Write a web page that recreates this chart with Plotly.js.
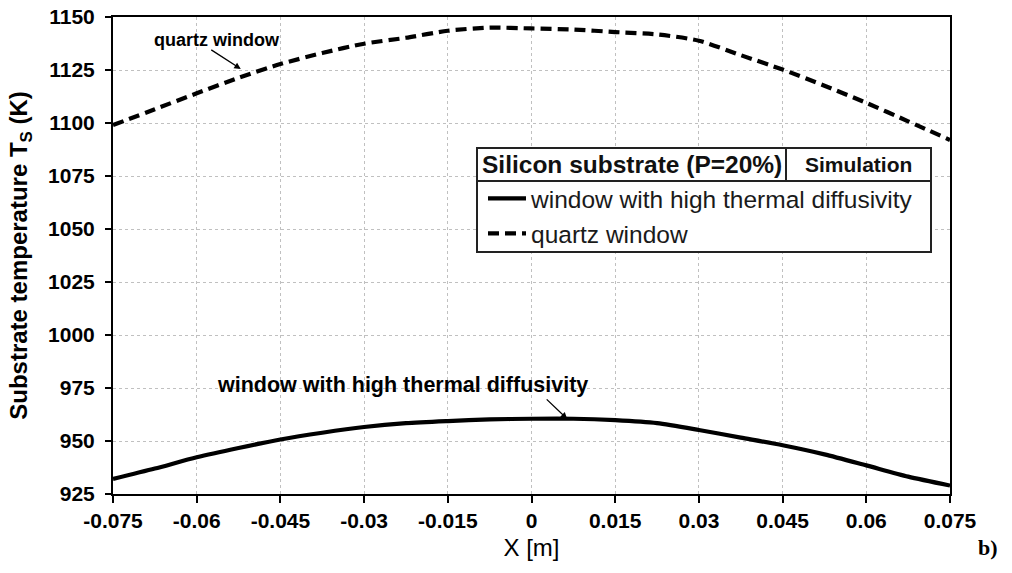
<!DOCTYPE html>
<html>
<head>
<meta charset="utf-8">
<script src="https://cdn.plot.ly/plotly-3.0.1.min.js"></script>
<style>html,body{margin:0;padding:0;background:#fff;}#chart{width:1012px;height:573px;}</style>
</head>
<body>
<div id="chart"></div>
<script>
// Data
const xPos = [-0.075, -0.0675, -0.06, -0.0525, -0.045, -0.0375, -0.03, -0.0225, -0.015, -0.0075, 0,
              0.0075, 0.015, 0.0225, 0.03, 0.0375, 0.045, 0.0525, 0.06, 0.0675, 0.075];
const highDiffusivity = [932.1, 937, 942.3, 946.7, 950.7, 953.9, 956.6, 958.4, 959.4, 960.2, 960.5,
                         960.5, 959.8, 958.4, 955.2, 951.6, 948, 943.7, 938.5, 933.2, 929];
const quartz = [1099, 1106.5, 1114, 1121.3, 1127.8, 1133, 1137.4, 1140.2, 1143.5, 1145, 1144.6,
                1144.1, 1142.9, 1141.8, 1138.8, 1132, 1125.2, 1117.6, 1109.5, 1100.8, 1092];
const xTicks = [-0.075, -0.06, -0.045, -0.03, -0.015, 0, 0.015, 0.03, 0.045, 0.06, 0.075];
const xTickLabels = ['-0.075', '-0.06', '-0.045', '-0.03', '-0.015', '0', '0.015', '0.03', '0.045', '0.06', '0.075'];
const yTicks = [925, 950, 975, 1000, 1025, 1050, 1075, 1100, 1125, 1150];
const seriesNames = ['window with high thermal diffusivity', 'quartz window'];
const headerLeft = 'Silicon substrate (P=20%)';
const headerRight = 'Simulation';

const FONT = 'Arial, "Liberation Sans", sans-serif';
// plot area in pixels
const L = 113, R = 950, T = 17, B = 494;
const px = v => (v - L) / (R - L);
const py = v => (B - v) / (B - T);

const traces = [
  {x: xPos, y: highDiffusivity, name: seriesNames[0], mode: 'lines', legendgroup: 'a',
   line: {color: '#000', width: 4.2, shape: 'spline', smoothing: 0.7}},
  {x: xPos, y: quartz, name: seriesNames[1], mode: 'lines', legendgroup: 'b',
   line: {color: '#000', width: 4.2, dash: '11px,6px', shape: 'spline', smoothing: 0.7}}
];

const boxL = 477, boxR = 931, hTop = 148, hBot = 181, bBot = 252, divX = 786;

const layout = {
  width: 1012, height: 573,
  margin: {l: L, r: 1012 - R, t: T, b: 573 - B},
  paper_bgcolor: '#fff', plot_bgcolor: '#fff',
  font: {family: FONT, color: '#000'},
  showlegend: true,
  legend: {x: px(483), xanchor: 'left', y: py(hBot - 5), yanchor: 'top', itemwidth: 38,
           bgcolor: 'rgba(0,0,0,0)', borderwidth: 0, tracegroupgap: 0,
           font: {size: 24.5, family: FONT, color: '#1a1a1a'}},
  xaxis: {
    range: [-0.075, 0.075], tickvals: xTicks, ticktext: xTickLabels,
    showline: true, linecolor: '#000', linewidth: 2, mirror: true,
    ticks: 'outside', ticklen: 7, tickwidth: 2, tickcolor: '#000',
    showgrid: true, gridcolor: '#c0c0c0', gridwidth: 1, griddash: 'dot',
    zeroline: false,
    tickfont: {size: 21, family: FONT, weight: 'bold', color: '#000'},
    title: {text: 'X [m]', font: {size: 24, family: FONT, color: '#000'}, standoff: 8}
  },
  yaxis: {
    range: [925, 1150], tickvals: yTicks,
    showline: true, linecolor: '#000', linewidth: 2, mirror: true,
    ticks: 'outside', ticklen: 6, tickwidth: 2, tickcolor: '#000', ticklabelstandoff: 6,
    showgrid: true, gridcolor: '#c0c0c0', gridwidth: 1, griddash: 'dot',
    zeroline: false,
    tickfont: {size: 21, family: FONT, weight: 'bold', color: '#000'},
    title: {text: 'Substrate temperature T<sub>S</sub> (K)', font: {size: 24, family: FONT, weight: 'bold', color: '#000'}, standoff: 14}
  },
  shapes: [
    {type: 'rect', xref: 'paper', yref: 'paper', x0: px(boxL), x1: px(boxR), y0: py(hBot), y1: py(hTop),
     line: {color: '#222', width: 2}, fillcolor: '#fff', layer: 'above'},
    {type: 'rect', xref: 'paper', yref: 'paper', x0: px(boxL), x1: px(boxR), y0: py(bBot), y1: py(hBot),
     line: {color: '#222', width: 2}, fillcolor: '#fff', layer: 'above'},
    {type: 'line', xref: 'paper', yref: 'paper', x0: px(divX), x1: px(divX), y0: py(hBot), y1: py(hTop),
     line: {color: '#222', width: 2}, layer: 'above'}
  ],
  annotations: [
    {xref: 'paper', yref: 'paper', x: px((boxL + divX) / 2), y: py((hTop + hBot) / 2), text: headerLeft,
     xanchor: 'center', yanchor: 'middle', showarrow: false,
     font: {size: 24.5, family: FONT, weight: 'bold', color: '#111'}},
    {xref: 'paper', yref: 'paper', x: px((divX + boxR) / 2), y: py((hTop + hBot) / 2), text: headerRight,
     xanchor: 'center', yanchor: 'middle', showarrow: false,
     font: {size: 21, family: FONT, weight: 'bold', color: '#111'}},
    {x: -0.0564, y: 1139.2, text: 'quartz window', showarrow: false, xanchor: 'center', yanchor: 'middle',
     font: {size: 18, family: FONT, weight: 'bold', color: '#000'}},
    {x: -0.0521, y: 1125.5, text: '', showarrow: true, axref: 'pixel', ayref: 'pixel', ax: -31, ay: -20,
     arrowhead: 2, arrowsize: 1, arrowwidth: 1.3, arrowcolor: '#000'},
    {x: -0.0232, y: 976.2, text: 'window with high thermal diffusivity', showarrow: false, xanchor: 'center', yanchor: 'middle',
     font: {size: 21.5, family: FONT, weight: 'bold', color: '#000'}},
    {x: 0.0064, y: 960.4, text: '', showarrow: true, axref: 'pixel', ayref: 'pixel', ax: -22, ay: -21,
     arrowhead: 2, arrowsize: 1, arrowwidth: 1.3, arrowcolor: '#000'},
    {xref: 'paper', yref: 'paper', x: px(988), y: py(547), text: 'b)', showarrow: false,
     xanchor: 'center', yanchor: 'middle',
     font: {size: 22, family: '"Liberation Serif", "Times New Roman", serif', weight: 'bold', color: '#000'}}
  ]
};

Plotly.newPlot('chart', traces, layout, {displayModeBar: false, staticPlot: true});
</script>
</body>
</html>
